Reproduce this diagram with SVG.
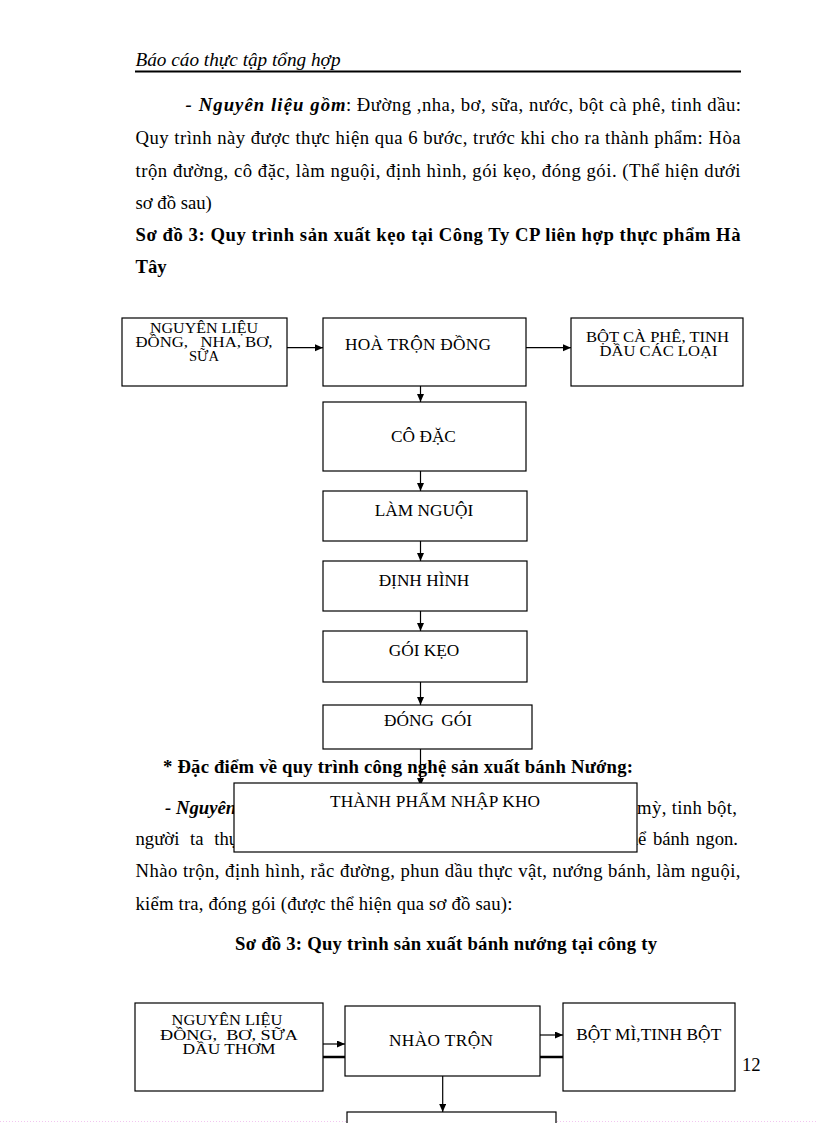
<svg xmlns="http://www.w3.org/2000/svg" width="816" height="1123" viewBox="0 0 816 1123">
<style>
.t{font-family:"Liberation Serif","DejaVu Serif",serif;font-size:18.7px;fill:#000}
.b{font-weight:bold}
.i{font-style:italic}
.box{fill:#fff;stroke:#000;stroke-width:1.2}
.lbl{font-family:"Liberation Serif","DejaVu Serif",serif;font-size:17.3px;fill:#000;text-anchor:middle}
.sm{font-size:14px}
.conn{stroke:#000;stroke-width:1.2;fill:none}
.thick{stroke:#000;stroke-width:2.5;fill:none}
</style>
<defs>
<marker id="ah" markerUnits="userSpaceOnUse" markerWidth="9" markerHeight="8" refX="8" refY="3.5" orient="auto">
<path d="M0,0 L8,3.5 L0,7 z" fill="#000"/>
</marker>
</defs>
<rect width="816" height="1123" fill="#fff"/>

<!-- header -->
<text class="t i" x="135.5" y="66" textLength="205" lengthAdjust="spacingAndGlyphs">Báo cáo thực tập tổng hợp</text>
<line x1="135" y1="71.5" x2="741" y2="71.5" stroke="#000" stroke-width="2"/>

<!-- paragraph 1 -->
<text class="t b i" x="185.6" y="111" textLength="160" lengthAdjust="spacing">- Nguyên liệu gồm</text>
<text class="t" x="346" y="111" textLength="395" lengthAdjust="spacing">: Đường ,nha, bơ, sữa, nước, bột cà phê, tinh  dầu:</text>
<text class="t" x="135.5" y="144" textLength="605" lengthAdjust="spacing">Quy trình này được thực hiện qua 6 bước, trước khi cho ra thành phẩm: Hòa</text>
<text class="t" x="135.5" y="177" textLength="605" lengthAdjust="spacing">trộn đường, cô đặc, làm nguội, định hình, gói kẹo, đóng gói. (Thể hiện dưới</text>
<text class="t" x="135.5" y="209">sơ đồ sau)</text>
<text class="t b" x="135.5" y="241" textLength="605" lengthAdjust="spacing">Sơ đồ 3: Quy trình sản xuất kẹo tại Công Ty CP liên hợp thực phẩm Hà</text>
<text class="t b" x="135.5" y="273">Tây</text>

<!-- paragraph 2 -->
<text class="t b" x="163" y="773" textLength="470" lengthAdjust="spacing">* Đặc điểm về quy trình công nghệ sản xuất bánh Nướng:</text>
<text class="t b i" x="165" y="814">- Nguyên</text>
<text class="t" x="637" y="814" textLength="100" lengthAdjust="spacing">mỳ, tinh bột,</text>
<text class="t" x="135.5" y="845" word-spacing="6">người ta thực</text>
<text class="t" x="738" y="845" text-anchor="end" word-spacing="2">thể bánh ngon.</text>
<text class="t" x="135.5" y="877" textLength="605" lengthAdjust="spacing">Nhào trộn, định hình, rắc đường, phun dầu thực vật, nướng bánh, làm nguội,</text>
<text class="t" x="135.5" y="910" textLength="377" lengthAdjust="spacing">kiểm tra, đóng gói (được thể hiện qua sơ đồ sau):</text>
<text class="t b" x="235" y="950" textLength="422" lengthAdjust="spacing">Sơ đồ 3: Quy trình sản xuất bánh nướng tại công ty</text>

<!-- connectors -->
<g id="connectors">
<line class="conn" x1="287" y1="347.7" x2="323" y2="347.7" marker-end="url(#ah)"/>
<line class="conn" x1="526" y1="347.7" x2="571" y2="347.7" marker-end="url(#ah)"/>
<line class="conn" x1="420.5" y1="386" x2="420.5" y2="402" marker-end="url(#ah)"/>
<line class="conn" x1="420.5" y1="471" x2="420.5" y2="491" marker-end="url(#ah)"/>
<line class="conn" x1="420.5" y1="541" x2="420.5" y2="561" marker-end="url(#ah)"/>
<line class="conn" x1="420.5" y1="611" x2="420.5" y2="631" marker-end="url(#ah)"/>
<line class="conn" x1="420.5" y1="682" x2="420.5" y2="705" marker-end="url(#ah)"/>
<line class="conn" x1="420.5" y1="749" x2="420.5" y2="786" marker-end="url(#ah)"/>
<line class="conn" x1="323" y1="1044" x2="345" y2="1044" marker-end="url(#ah)"/>
<line class="thick" x1="323" y1="1057" x2="345" y2="1057"/>
<line class="conn" x1="540" y1="1035" x2="563" y2="1035" marker-end="url(#ah)"/>
<line class="thick" x1="540" y1="1057" x2="563" y2="1057"/>
<line class="conn" x1="442.7" y1="1076" x2="442.7" y2="1112" marker-end="url(#ah)"/>
</g>

<!-- diagram 1 nodes -->
<g id="n1-nguyenlieu">
<rect class="box" x="122" y="318" width="165" height="68"/>
<text class="lbl sm" x="204" y="333" textLength="108" lengthAdjust="spacingAndGlyphs">NGUYÊN LIỆU</text>
<text class="lbl sm" x="204" y="347" textLength="137" lengthAdjust="spacingAndGlyphs" xml:space="preserve">ĐỒNG,   NHA, BƠ,</text>
<text class="lbl sm" x="204" y="361" textLength="30" lengthAdjust="spacingAndGlyphs">SỮA</text>
</g>
<g id="n1-hoatron">
<rect class="box" x="323" y="318" width="203" height="68"/>
<text class="lbl" x="418" y="350" textLength="146" lengthAdjust="spacing">HOÀ TRỘN ĐỒNG</text>
</g>
<g id="n1-botcaphe">
<rect class="box" x="571" y="318" width="172" height="68"/>
<text class="lbl sm" x="657.5" y="342" textLength="143" lengthAdjust="spacingAndGlyphs">BỘT CÀ PHÊ, TINH</text>
<text class="lbl sm" x="658.5" y="356" textLength="118" lengthAdjust="spacingAndGlyphs">DẦU CÁC LOẠI</text>
</g>
<g id="n1-codac">
<rect class="box" x="323" y="402" width="203" height="69"/>
<text class="lbl" x="423.5" y="442">CÔ ĐẶC</text>
</g>
<g id="n1-lamnguoi">
<rect class="box" x="323" y="491" width="204" height="50"/>
<text class="lbl" x="424" y="515.7">LÀM NGUỘI</text>
</g>
<g id="n1-dinhhinh">
<rect class="box" x="323" y="561" width="204" height="50"/>
<text class="lbl" x="424" y="585.7">ĐỊNH HÌNH</text>
</g>
<g id="n1-goikeo">
<rect class="box" x="323" y="631" width="204" height="51"/>
<text class="lbl" x="424" y="656">GÓI KẸO</text>
</g>
<g id="n1-donggoi">
<rect class="box" x="323" y="705" width="209" height="44"/>
<text class="lbl" x="428" y="726" word-spacing="3">ĐÓNG GÓI</text>
</g>
<g id="n1-thanhpham">
<rect class="box" x="234" y="783" width="403" height="69"/>
<text class="lbl" x="435" y="806.7" textLength="210" lengthAdjust="spacing">THÀNH PHẨM NHẬP KHO</text>
</g>

<!-- diagram 2 nodes -->
<g id="n2-nguyenlieu">
<rect class="box" x="135" y="1003" width="188" height="88"/>
<text class="lbl sm" x="227" y="1025" textLength="111" lengthAdjust="spacingAndGlyphs">NGUYÊN LIỆU</text>
<text class="lbl sm" x="229" y="1039.5" textLength="138" lengthAdjust="spacingAndGlyphs" xml:space="preserve">ĐỒNG,  BƠ, SỮA</text>
<text class="lbl sm" x="229" y="1054" textLength="93" lengthAdjust="spacingAndGlyphs">DẦU THƠM</text>
</g>
<g id="n2-nhaotron">
<rect class="box" x="345" y="1006" width="195" height="70"/>
<text class="lbl" x="441" y="1045.7" textLength="104" lengthAdjust="spacing">NHÀO TRỘN</text>
</g>
<g id="n2-botmi">
<rect class="box" x="563" y="1003" width="172" height="88"/>
<text class="lbl" x="648.7" y="1040" textLength="145" lengthAdjust="spacing">BỘT MÌ,TINH BỘT</text>
</g>
<g id="n2-next">
<rect class="box" x="347" y="1112" width="209" height="30"/>
</g>

<text class="t" x="742" y="1071" font-size="17.3">12</text>
<line x1="0" y1="1121.5" x2="346" y2="1121.5" stroke="#f2c6f0" stroke-width="1" stroke-dasharray="1 2"/>
<line x1="557" y1="1121.5" x2="816" y2="1121.5" stroke="#f2c6f0" stroke-width="1" stroke-dasharray="1 2"/>
</svg>
